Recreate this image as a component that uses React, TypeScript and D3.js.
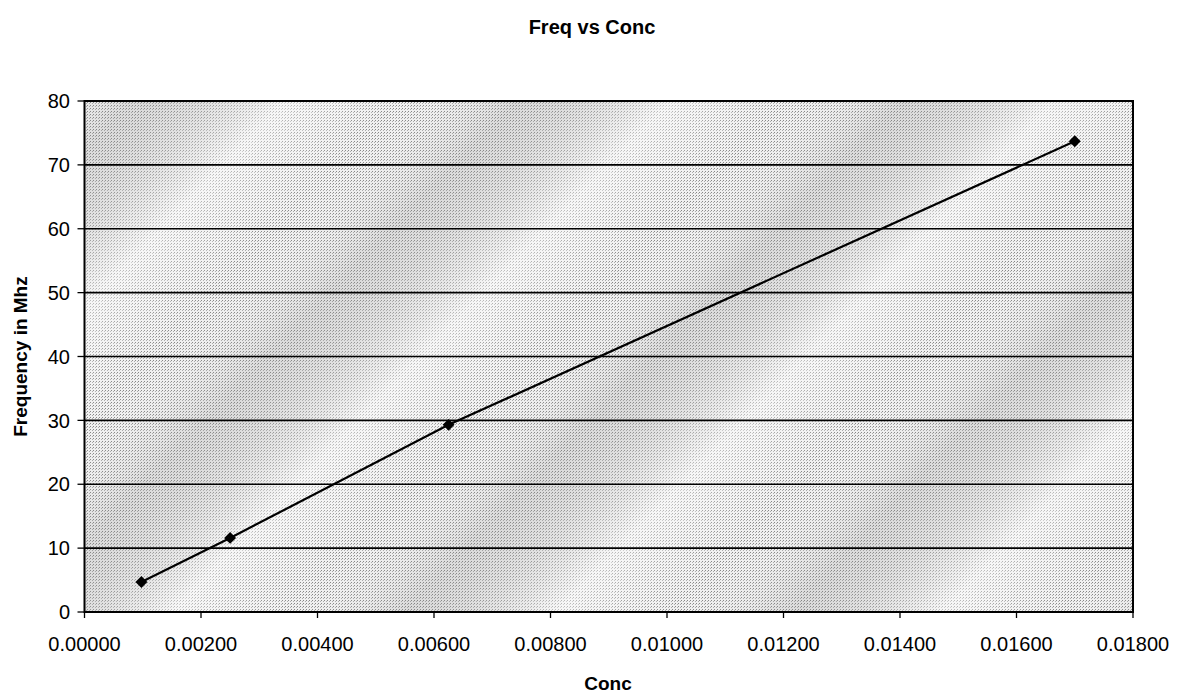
import React from "react";
import * as d3 from "d3";

const concValues = [0.000977, 0.0025, 0.00625, 0.0170];
const freqValues = [4.7, 11.6, 29.3, 73.7];
const xTicks = [0, 0.002, 0.004, 0.006, 0.008, 0.01, 0.012, 0.014, 0.016, 0.018];
const yTicks = [0, 10, 20, 30, 40, 50, 60, 70, 80];
const chartTitle = "Freq vs Conc";
const xTitle = "Conc";
const yTitle = "Frequency in Mhz";

const W = 1182;
const H = 696;
const left = 84.5;
const right = 1133;
const top = 101;
const bottom = 612;

export default function App() {
  const x = d3.scaleLinear().domain([0, 0.018]).range([left, right]);
  const y = d3.scaleLinear().domain([0, 80]).range([bottom, top]);
  const pts = concValues.map((c, i) => [x(c), y(freqValues[i])] as [number, number]);
  const line = d3.line()(pts) || "";
  const font = "'Liberation Sans', Arial, sans-serif";
  const diamond = d3.symbol().type(d3.symbolDiamond2).size(90)() || "";

  return (
    <svg width={W} height={H} style={{ position: "absolute", left: 0, top: 0 }} fontFamily={font}>
      <defs>
        <pattern id="dith" width="3" height="3" patternUnits="userSpaceOnUse">
          <rect width="3" height="3" fill="#f0f0f0" />
          <rect x="0" y="0" width="1" height="1" fill="#858585" />
          <rect x="2" y="1" width="1" height="1" fill="#aaaaaa" />
        </pattern>
        <linearGradient id="streak" x1="0" y1="0" x2="1" y2="0.35" spreadMethod="repeat" gradientUnits="userSpaceOnUse"
          gradientTransform="scale(260) rotate(25)">
          <stop offset="0" stopColor="#ffffff" stopOpacity="0.45" />
          <stop offset="0.3" stopColor="#ffffff" stopOpacity="0" />
          <stop offset="0.6" stopColor="#888" stopOpacity="0.2" />
          <stop offset="1" stopColor="#ffffff" stopOpacity="0.45" />
        </linearGradient>
      </defs>
      <rect x={0} y={0} width={W} height={H} fill="#fff" />
      <text x={592} y={34} textAnchor="middle" fontSize={20} fontWeight="bold">{chartTitle}</text>
      <rect x={left} y={top} width={right - left} height={bottom - top} fill="url(#dith)" />
      <rect x={left} y={top} width={right - left} height={bottom - top} fill="url(#streak)" />
      {yTicks.map((t) => (
        <g key={"y" + t}>
          {t > 0 && t < 80 && (
            <line x1={left} x2={right} y1={y(t)} y2={y(t)} stroke="#000" strokeWidth={1.6} />
          )}
          <line x1={left - 7} x2={left} y1={y(t)} y2={y(t)} stroke="#000" strokeWidth={1.3} />
          <text x={70} y={y(t)} dy="0.36em" textAnchor="end" fontSize={20}>{t}</text>
        </g>
      ))}
      {xTicks.map((t) => (
        <g key={"x" + t}>
          <line x1={x(t)} x2={x(t)} y1={bottom} y2={bottom + 6} stroke="#000" strokeWidth={1.3} />
          <text x={x(t)} y={651} textAnchor="middle" fontSize={20}>{t.toFixed(5)}</text>
        </g>
      ))}
      <rect x={left} y={top} width={right - left} height={bottom - top} fill="none" stroke="#000" strokeWidth={2} />
      <path d={line} fill="none" stroke="#000" strokeWidth={2.2} />
      {pts.map((p, i) => (
        <path key={i} d={diamond} transform={`translate(${p[0]},${p[1]})`} fill="#000" />
      ))}
      <text x={608} y={690} textAnchor="middle" fontSize={19} fontWeight="bold">{xTitle}</text>
      <text transform={`translate(27,${(top + bottom) / 2}) rotate(-90)`} textAnchor="middle" fontSize={19} fontWeight="bold">{yTitle}</text>
    </svg>
  );
}
